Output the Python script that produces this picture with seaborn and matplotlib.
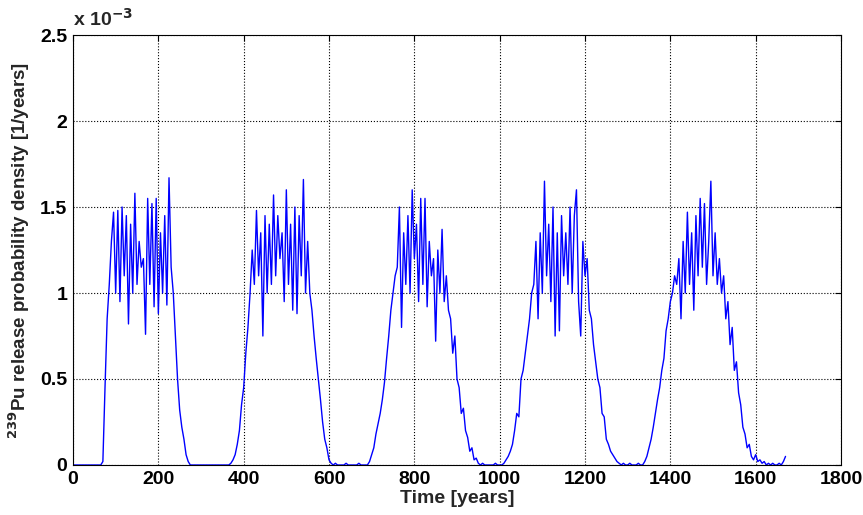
import numpy as np
import pandas as pd
import matplotlib
matplotlib.use("Agg")
import matplotlib.pyplot as plt
import seaborn as sns

# release density, units of 1e-3 per year, sampled every 5 years
# each segment: (start year, values)
step = 5

quiet_0 = [0, 0, 0, 0, 0, 0, 0, 0, 0, 0, 0, 0, 0, 0]
hump_1 = [0.02, 0.45, 0.85, 1.05,
          1.3, 1.47, 1.0, 1.48, 0.95, 1.5, 1.1, 1.45, 0.82, 1.4, 1.0, 1.58, 1.05, 1.3,
          1.15, 1.2, 0.76, 1.55, 1.05, 1.52, 0.92, 1.55, 0.88, 1.35, 1.0, 1.45, 0.93,
          1.67, 1.15,
          1.0, 0.75, 0.5, 0.32, 0.22, 0.15, 0.06, 0.02, 0.0]
quiet_1 = [0, 0, 0, 0, 0, 0, 0, 0, 0, 0, 0, 0, 0, 0, 0, 0, 0, 0]
hump_2 = [0.01, 0.03, 0.06, 0.12, 0.2, 0.35, 0.45, 0.65, 0.8, 1.0,
          1.25, 1.05, 1.48, 1.1, 1.35, 0.75, 1.45, 1.0, 1.4, 1.05, 1.57, 1.1, 1.45, 1.2,
          1.35, 0.95, 1.6, 1.05, 1.4, 0.9, 1.5, 0.88, 1.45, 1.1, 1.66, 1.0, 1.3,
          1.0, 0.9, 0.75, 0.62, 0.5, 0.38, 0.25, 0.15, 0.1, 0.03, 0.01]
quiet_2 = [0, 0.01, 0, 0, 0, 0, 0.01, 0, 0, 0, 0, 0, 0.01, 0, 0, 0, 0]
hump_3 = [0.02, 0.06, 0.1, 0.18, 0.24, 0.3, 0.38, 0.48, 0.62, 0.75, 0.9, 1.0, 1.1,
          1.15, 1.5, 0.8, 1.35, 1.05, 1.45, 1.0, 1.6, 1.2, 1.4, 0.95, 1.55, 1.05, 1.55,
          0.92, 1.3, 1.1, 1.2, 0.72, 1.25, 1.0, 1.37, 0.95, 1.1, 0.9,
          0.85, 0.65, 0.75, 0.5, 0.45, 0.3, 0.33, 0.2, 0.16, 0.08, 0.1, 0.03, 0.04, 0.01]
quiet_3 = [0, 0.01, 0, 0, 0, 0, 0, 0.01, 0, 0, 0]
hump_4 = [0.01, 0.03, 0.05, 0.08, 0.12, 0.2, 0.3, 0.28, 0.5, 0.55, 0.65, 0.75, 0.85,
          1.0, 1.05,
          1.3, 0.85, 1.35, 1.0, 1.65, 1.1, 1.4, 0.95, 1.5, 0.75, 1.35, 0.78, 1.45, 1.1,
          1.35, 1.05, 1.5, 1.0, 1.45, 1.6, 0.95, 0.75, 1.3, 1.1, 1.2,
          0.9, 0.85, 0.7, 0.6, 0.5, 0.45, 0.3, 0.28, 0.15, 0.12, 0.08, 0.06, 0.04, 0.02,
          0.01]
quiet_4 = [0, 0.01, 0, 0, 0.01, 0, 0, 0, 0.01, 0, 0]
hump_5 = [0.02, 0.05, 0.1, 0.15, 0.22, 0.3, 0.38, 0.45, 0.55, 0.62, 0.78, 0.85, 0.95,
          1.0, 1.1, 1.05,
          1.2, 0.85, 1.3, 1.0, 1.47, 1.05, 1.35, 0.9, 1.45, 1.1, 1.55, 1.15, 1.52, 1.05,
          1.3, 1.65, 1.1, 1.35, 1.05, 1.2,
          1.0, 1.1, 0.85, 0.95, 0.7, 0.8, 0.55, 0.6, 0.42, 0.35, 0.22, 0.18, 0.1, 0.12,
          0.05, 0.03, 0.06]
tail_5 = [0.02, 0.03, 0.01, 0.02, 0.0, 0.01, 0.0, 0.01, 0.0, 0.0, 0.01, 0.0, 0.02, 0.05]

segments = [(0, quiet_0), (70, hump_1), (280, quiet_1), (370, hump_2),
            (610, quiet_2), (695, hump_3), (955, quiet_3), (1010, hump_4),
            (1285, quiet_4), (1340, hump_5), (1605, tail_5)]

frames = []
for start, vals in segments:
    frames.append(pd.DataFrame({"year": start + step * np.arange(len(vals)),
                                "density": vals}))
df = pd.concat(frames, ignore_index=True)

sns.set_style("white")
plt.rcParams["font.family"] = ["Liberation Sans Narrow", "Liberation Sans", "DejaVu Sans"]
plt.rcParams["font.weight"] = "bold"

fig = plt.figure(figsize=(8.63, 5.15), dpi=100)
ax = fig.add_axes([0.0846, 0.0971, 0.8899, 0.8349])

sns.lineplot(data=df, x="year", y="density", ax=ax, color="#0000ff",
             linewidth=1.0, estimator=None)

ax.set_xlim(0, 1800)
ax.set_ylim(0, 2.5)
ax.set_xticks(np.arange(0, 1801, 200))
ax.set_yticks([0, 0.5, 1, 1.5, 2, 2.5])
ax.set_yticklabels(["0", "0.5", "1", "1.5", "2", "2.5"])
ax.grid(True, color="black", linestyle=":", linewidth=0.8)
ax.tick_params(direction="in", top=True, right=True, length=4, width=0.8,
               labelsize=14, pad=4, colors="black")
for lab in ax.get_xticklabels() + ax.get_yticklabels():
    lab.set_fontweight("bold")
for s in ax.spines.values():
    s.set_color("black")
    s.set_linewidth(0.8)

ax.set_xlabel("Time [years]", fontsize=14, fontweight="bold", labelpad=2)
ax.set_ylabel(r"$^{\mathbf{239}}$Pu release probability density [1/years]",
              fontsize=13.5, fontweight="bold", labelpad=6)
ax.text(0.0, 1.012, r"x 10$^{\mathbf{-3}}$", transform=ax.transAxes,
        fontsize=14, fontweight="bold", ha="left", va="bottom")

fig.savefig("out.png", dpi=100)
